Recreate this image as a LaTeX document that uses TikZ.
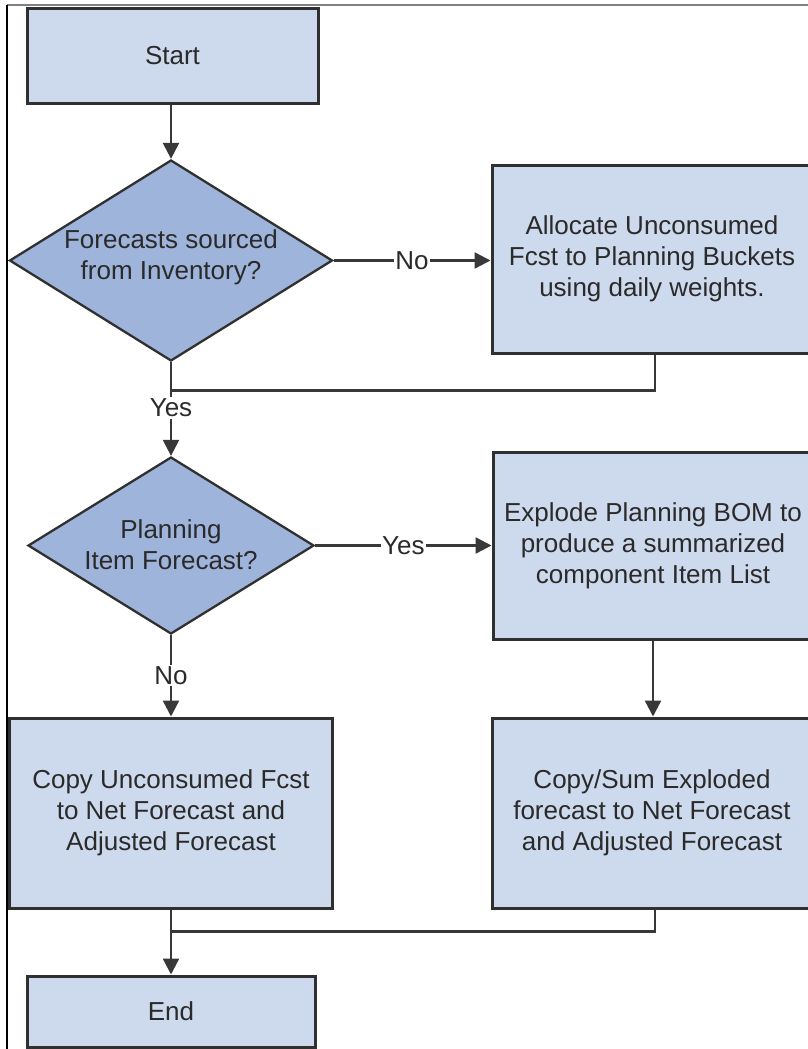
\documentclass[tikz,border=0pt]{standalone}
\usepackage{fontspec}
\setmainfont{Liberation Sans}
\usetikzlibrary{shapes.geometric,arrows.meta}
\definecolor{boxfill}{HTML}{CDD9EC}
\definecolor{diafill}{HTML}{9EB4DB}
\definecolor{edgec}{HTML}{303030}
\definecolor{connc}{HTML}{383838}
\definecolor{txtc}{HTML}{2A2A2A}
\begin{document}
\begin{tikzpicture}[x=1pt,y=-1pt,
  txtfont/.style={font=\fontsize{26}{31}\selectfont, text=txtc},
  procbox/.style={draw=edgec, line width=3pt, fill=boxfill, inner sep=0pt, align=center, txtfont},
  decision/.style={diamond, draw=edgec, line width=2.3pt, fill=diafill, inner sep=0pt},
  dtext/.style={align=center, txtfont},
  conn/.style={draw=connc, line width=2.4pt},
  arr/.style={conn, -{Triangle[length=16pt,width=16pt]}},
  lab/.style={fill=white, inner sep=1.5pt, txtfont}]
\useasboundingbox (0,0) rectangle (808,1049);
% frame
\draw[draw=gray, line width=1.5pt] (7,5) -- (808,5);
\draw[draw=black, line width=1.2pt] (7,5) -- (7,1049);
% nodes
\node[procbox, minimum width=291pt, minimum height=94pt] (start) at (172.5,56) {Start};
\node[decision, minimum width=323pt, minimum height=201pt] (d1) at (171,260.5) {};
\node[dtext] (d1t) at (171,257.5) {Forecasts sourced\\from Inventory?};
\node[procbox, minimum width=320pt, minimum height=188pt] (alloc) at (652,259) {Allocate Unconsumed\\Fcst to Planning Buckets\\using daily weights.};
\node[decision, minimum width=286pt, minimum height=177pt] (d2) at (171,545.5) {};
\node[dtext] (d2t) at (171,545) {Planning\\Item Forecast?};
\node[procbox, minimum width=320pt, minimum height=187pt] (explode) at (653,545.5) {Explode Planning BOM to\\produce a summarized\\component Item List};
\node[procbox, minimum width=323pt, minimum height=190pt] (copy) at (171,813) {Copy Unconsumed Fcst\\to Net Forecast and\\Adjusted Forecast};
\node[procbox, minimum width=320pt, minimum height=190pt] (copysum) at (652,813) {Copy/Sum Exploded\\forecast to Net Forecast\\and Adjusted Forecast};
\node[procbox, minimum width=288pt, minimum height=71pt] (end) at (171,1011.5) {End};
% connectors
\draw[arr] (start.south -| d1.north) -- (d1.north);
\draw[arr] (d1.east) -- node[lab]{No} (d1.east -| alloc.west);
\draw[conn] ([xshift=3pt]alloc.south) -- ++(0,36) -| (d1.south);
\draw[arr] (d1.south) -- node[lab, pos=0.49]{Yes} (d2.north);
\draw[arr] (d2.east) -- node[lab]{Yes} (d2.east -| explode.west);
\draw[arr] (explode.south) -- (explode.south |- copysum.north);
\draw[arr] (d2.south) -- node[lab, pos=0.5]{No} (copy.north);
\draw[conn] ([xshift=3pt]copysum.south) -- ++(0,22) -| (copy.south);
\draw[arr] (copy.south) -- (end.north);
\end{tikzpicture}
\end{document}
